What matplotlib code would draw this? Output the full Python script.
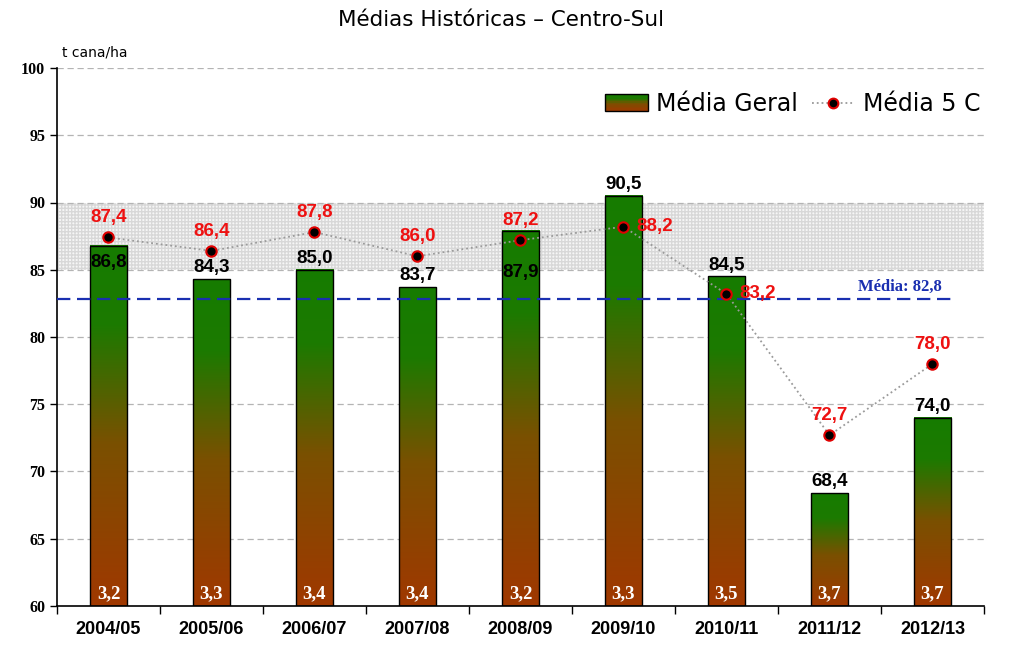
import numpy as np
import matplotlib
matplotlib.use("Agg")
import matplotlib.pyplot as plt
from matplotlib.colors import LinearSegmentedColormap
from matplotlib.patches import Rectangle
from matplotlib.lines import Line2D
from matplotlib.legend_handler import HandlerBase

# dados
safras = ['2004/05', '2005/06', '2006/07', '2007/08', '2008/09',
          '2009/10', '2010/11', '2011/12', '2012/13']
media_geral = [86.8, 84.3, 85.0, 83.7, 87.9, 90.5, 84.5, 68.4, 74.0]
media_5c = [87.4, 86.4, 87.8, 86.0, 87.2, 88.2, 83.2, 72.7, 78.0]
base_txt = ['3,2', '3,3', '3,4', '3,4', '3,2', '3,3', '3,5', '3,7', '3,7']
media_total = 82.8
faixa = (85, 90)

# rótulos que ficam dentro da barra (deslocamento em pt) / ao lado do ponto
dentro = {0: -6, 4: -24}
ao_lado = [5, 6]

cmap = LinearSegmentedColormap.from_list(
    'vm', [(0.0, '#a03800'), (0.45, '#7a5000'), (0.78, '#1c7a00'), (1.0, '#167c00')])

fig = plt.figure(figsize=(10.12, 6.67), dpi=100)
ax = fig.add_axes([57/1012, 1-606/667, (984-57)/1012, (606-68)/667])

ymin, ymax = 60, 100
x = np.arange(len(safras))
w = 0.36

# faixa hachurada 85-90
ax.fill_between([-0.5, 8.5], faixa[0], faixa[1], facecolor='#f6f6f6',
                edgecolor='#d8d8d8', hatch='+++++', linewidth=0, zorder=0.5)

# grade
for v in range(65, 101, 5):
    ax.axhline(v, color='#b4b4b4', ls=(0, (5, 3)), lw=0.9, zorder=0.6)

grad = np.linspace(0, 1, 256).reshape(-1, 1)
for i, v in enumerate(media_geral):
    ax.imshow(grad, cmap=cmap, extent=[i-w/2, i+w/2, ymin, v], origin='lower',
              aspect='auto', zorder=2, interpolation='bilinear')
    ax.add_patch(Rectangle((i-w/2, ymin), w, v-ymin, fill=False,
                           edgecolor='black', lw=1.0, zorder=3))
    s = f'{v:.1f}'.replace('.', ',')
    if i in dentro:
        ax.annotate(s, (i, v), xytext=(0, dentro[i]),
                    textcoords='offset points', ha='center', va='top',
                    fontsize=13.5, fontweight='bold', color='black', zorder=6,
                    family='Liberation Sans')
    else:
        ax.annotate(s, (i, v), xytext=(0, 2),
                    textcoords='offset points', ha='center', va='bottom',
                    fontsize=13.5, fontweight='bold', color='black', zorder=6,
                    family='Liberation Sans')
    ax.text(i, ymin+0.3, base_txt[i], ha='center', va='bottom', color='white',
            fontsize=13.5, fontweight='bold', family='Liberation Serif', zorder=6)

# linha média 5 C
ax.plot(x, media_5c, ls=':', color='#9a9a9a', lw=1.3, zorder=4)
ax.plot(x, media_5c, ls='none', marker='o', ms=7.5, mfc='black', mec='#e00000',
        mew=1.5, zorder=5)
for i, v in enumerate(media_5c):
    s = f'{v:.1f}'.replace('.', ',')
    if i in ao_lado:
        ax.annotate(s, (i, v), xytext=(9, 0), textcoords='offset points',
                    ha='left', va='center', fontsize=13.5, fontweight='bold',
                    color='#ee1111', family='Liberation Sans', zorder=6)
    else:
        ax.annotate(s, (i, v), xytext=(0, 8), textcoords='offset points',
                    ha='center', va='bottom', fontsize=13.5, fontweight='bold',
                    color='#ee1111', family='Liberation Sans', zorder=6)

# média geral tracejada
ax.plot([-0.5, 8.22], [media_total]*2, color='#1a2fb0', ls=(0, (6, 3)), lw=1.6,
        zorder=4)
ax.text(7.68, media_total+0.35, 'Média: ' + f'{media_total:.1f}'.replace('.', ','),
        ha='center', va='bottom', color='#1a2fb0', fontsize=12,
        fontweight='bold', family='Liberation Serif', zorder=6)

ax.set_xlim(-0.5, 8.5)
ax.set_ylim(ymin, ymax)
ax.spines['top'].set_visible(False)
ax.spines['right'].set_visible(False)
ax.spines['left'].set_linewidth(1.2)
ax.spines['bottom'].set_linewidth(1.2)

ax.set_yticks(range(60, 101, 5))
ax.set_yticklabels([str(v) for v in range(60, 101, 5)], family='Liberation Serif',
                   fontweight='bold', fontsize=11.5)
ax.tick_params(axis='y', length=5, width=1.0, direction='out')
ax.set_xticks(np.arange(-0.5, 9, 1))
ax.set_xticklabels([])
ax.tick_params(axis='x', which='major', length=6, width=1.0, direction='out')
ax.set_xticks(x, minor=True)
ax.set_xticklabels(safras, minor=True, family='Liberation Sans',
                   fontweight='bold', fontsize=13)
ax.tick_params(axis='x', which='minor', length=0, pad=11)


class HandlerGrad(HandlerBase):
    def create_artists(self, legend, orig, xd, yd, width, height, fontsize, trans):
        arts = []
        n = 12
        for k in range(n):
            c = cmap(1 - (k + 0.5) / n)
            r = Rectangle((xd, yd + height - (k+1)*height/n), width, height/n,
                          facecolor=c, edgecolor='none', transform=trans)
            arts.append(r)
        arts.append(Rectangle((xd, yd), width, height, fill=False,
                              edgecolor='black', lw=1.0, transform=trans))
        return arts


h_bar = Rectangle((0, 0), 1, 1)
h_line = Line2D([], [], ls=':', color='#9a9a9a', lw=1.3, marker='o', ms=7,
                mfc='black', mec='#e00000', mew=1.5)
leg = ax.legend([h_bar, h_line], ['Média Geral', 'Média 5 C'], ncol=2,
                loc='upper right', bbox_to_anchor=(1.019, 0.995), frameon=False,
                prop={'family': 'DejaVu Sans', 'size': 17},
                handler_map={h_bar: HandlerGrad()}, handlelength=1.8,
                handletextpad=0.35, columnspacing=0.6)

fig.text(501/1012, 1-20/667, 'Médias Históricas – Centro-Sul', ha='center',
         va='center', fontsize=15.5, family='DejaVu Sans')
fig.text(62/1012, 1-52/667, 't cana/ha', ha='left', va='center', fontsize=10,
         family='DejaVu Sans')

fig.savefig('out.png', dpi=100)
